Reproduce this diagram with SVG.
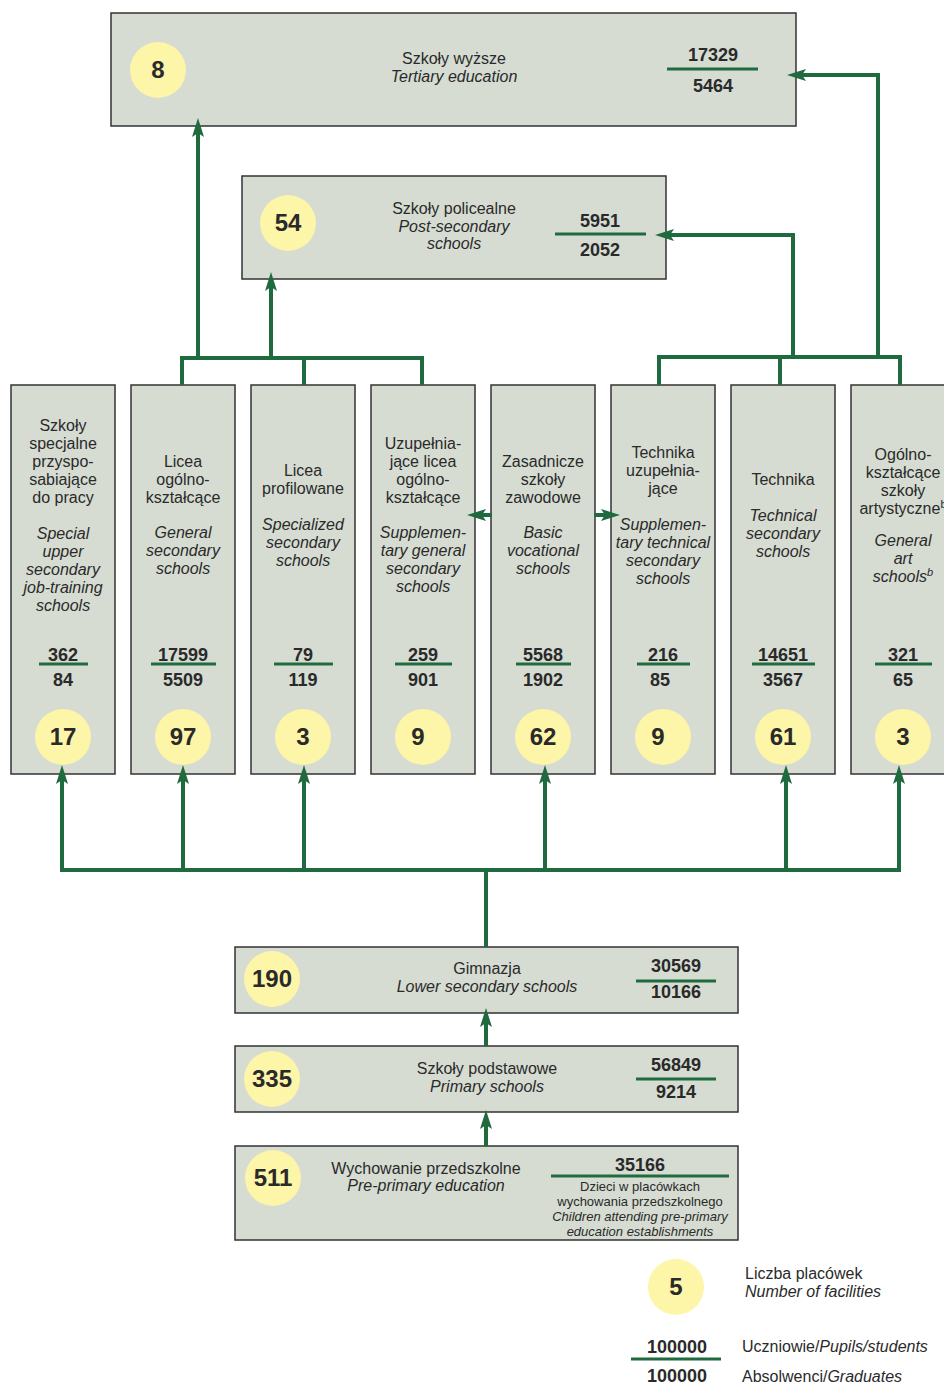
<svg xmlns="http://www.w3.org/2000/svg" width="944" height="1384" viewBox="0 0 944 1384">
<defs>
<style>
.box{fill:#d6dcd2;stroke:#333;stroke-width:1.5}
.dot{fill:#fdf5a8}
.t{font-family:"Liberation Sans",Arial,sans-serif;font-size:16px;fill:#2a2a2a;text-anchor:middle}
.i{font-style:italic}
.n{font-weight:bold;font-size:18px}
.c{font-weight:bold;font-size:24px}
.s{font-size:13px}
.l{text-anchor:start}
.rule{stroke:#1f6a3f;stroke-width:3}
.con{fill:none;stroke:#1f6a3f;stroke-width:4}
</style>
<marker id="ah" markerUnits="userSpaceOnUse" markerWidth="19" markerHeight="12" viewBox="0 0 19 12" refX="4" refY="6" orient="auto" overflow="visible">
<path d="M0,0 L19,6 L0,12 L4,6 Z" fill="#1f6a3f"/>
</marker>
</defs>
<rect width="944" height="1384" fill="#fff"/>

<g id="tertiary">
<rect class="box" x="111" y="13" width="685" height="113"/>
<circle class="dot" cx="158" cy="70" r="28"/>
<text class="t c" x="158" y="78">8</text>
<text class="t" x="454" y="64">Szkoły wyższe</text>
<text class="t i" x="454" y="82">Tertiary education</text>
<text class="t n" x="713" y="61">17329</text>
<line class="rule" x1="667" y1="69" x2="758" y2="69"/>
<text class="t n" x="713" y="92">5464</text>
</g>

<g id="postsecondary">
<rect class="box" x="242" y="176" width="424" height="103"/>
<circle class="dot" cx="288" cy="223" r="28"/>
<text class="t c" x="288" y="231">54</text>
<text class="t" x="454" y="214">Szkoły policealne</text>
<text class="t i" x="454" y="232">Post-secondary</text>
<text class="t i" x="454" y="249">schools</text>
<text class="t n" x="600" y="227">5951</text>
<line class="rule" x1="555" y1="234" x2="646" y2="234"/>
<text class="t n" x="600" y="256">2052</text>
</g>

<g id="col1">
<rect class="box" x="11" y="385" width="104" height="389"/>
<text class="t" x="63" y="431">Szkoły</text>
<text class="t" x="63" y="449">specjalne</text>
<text class="t" x="63" y="467">przyspo-</text>
<text class="t" x="63" y="485">sabiające</text>
<text class="t" x="63" y="503">do pracy</text>
<text class="t i" x="63" y="539">Special</text>
<text class="t i" x="63" y="557">upper</text>
<text class="t i" x="63" y="575">secondary</text>
<text class="t i" x="63" y="593">job-training</text>
<text class="t i" x="63" y="611">schools</text>
<text class="t n" x="63" y="661">362</text>
<line class="rule" x1="39" y1="664" x2="88" y2="664"/>
<text class="t n" x="63" y="686">84</text>
<circle class="dot" cx="63" cy="737" r="28"/>
<text class="t c" x="63" y="745">17</text>
</g>

<g id="col2">
<rect class="box" x="131" y="385" width="104" height="389"/>
<text class="t" x="183" y="467">Licea</text>
<text class="t" x="183" y="485">ogólno-</text>
<text class="t" x="183" y="503">kształcące</text>
<text class="t i" x="183" y="538">General</text>
<text class="t i" x="183" y="556">secondary</text>
<text class="t i" x="183" y="574">schools</text>
<text class="t n" x="183" y="661">17599</text>
<line class="rule" x1="151" y1="664" x2="216" y2="664"/>
<text class="t n" x="183" y="686">5509</text>
<circle class="dot" cx="183" cy="737" r="28"/>
<text class="t c" x="183" y="745">97</text>
</g>

<g id="col3">
<rect class="box" x="251" y="385" width="104" height="389"/>
<text class="t" x="303" y="476">Licea</text>
<text class="t" x="303" y="494">profilowane</text>
<text class="t i" x="303" y="530">Specialized</text>
<text class="t i" x="303" y="548">secondary</text>
<text class="t i" x="303" y="566">schools</text>
<text class="t n" x="303" y="661">79</text>
<line class="rule" x1="274" y1="664" x2="333" y2="664"/>
<text class="t n" x="303" y="686">119</text>
<circle class="dot" cx="303" cy="737" r="28"/>
<text class="t c" x="303" y="745">3</text>
</g>

<g id="col4">
<rect class="box" x="371" y="385" width="104" height="389"/>
<text class="t" x="423" y="449">Uzupełnia-</text>
<text class="t" x="423" y="467">jące licea</text>
<text class="t" x="423" y="485">ogólno-</text>
<text class="t" x="423" y="503">kształcące</text>
<text class="t i" x="423" y="538">Supplemen-</text>
<text class="t i" x="423" y="556">tary general</text>
<text class="t i" x="423" y="574">secondary</text>
<text class="t i" x="423" y="592">schools</text>
<text class="t n" x="423" y="661">259</text>
<line class="rule" x1="395" y1="664" x2="452" y2="664"/>
<text class="t n" x="423" y="686">901</text>
<circle class="dot" cx="423" cy="737" r="28"/>
<text class="t c" x="418" y="745">9</text>
</g>

<g id="col5">
<rect class="box" x="491" y="385" width="104" height="389"/>
<text class="t" x="543" y="467">Zasadnicze</text>
<text class="t" x="543" y="485">szkoły</text>
<text class="t" x="543" y="503">zawodowe</text>
<text class="t i" x="543" y="538">Basic</text>
<text class="t i" x="543" y="556">vocational</text>
<text class="t i" x="543" y="574">schools</text>
<text class="t n" x="543" y="661">5568</text>
<line class="rule" x1="516" y1="664" x2="571" y2="664"/>
<text class="t n" x="543" y="686">1902</text>
<circle class="dot" cx="543" cy="737" r="28"/>
<text class="t c" x="543" y="745">62</text>
</g>

<g id="col6">
<rect class="box" x="611" y="385" width="104" height="389"/>
<text class="t" x="663" y="458">Technika</text>
<text class="t" x="663" y="476">uzupełnia-</text>
<text class="t" x="663" y="494">jące</text>
<text class="t i" x="663" y="530">Supplemen-</text>
<text class="t i" x="663" y="548">tary technical</text>
<text class="t i" x="663" y="566">secondary</text>
<text class="t i" x="663" y="584">schools</text>
<text class="t n" x="663" y="661">216</text>
<line class="rule" x1="637" y1="664" x2="690" y2="664"/>
<text class="t n" x="660" y="686">85</text>
<circle class="dot" cx="663" cy="737" r="28"/>
<text class="t c" x="658" y="745">9</text>
</g>

<g id="col7">
<rect class="box" x="731" y="385" width="104" height="389"/>
<text class="t" x="783" y="485">Technika</text>
<text class="t i" x="783" y="521">Technical</text>
<text class="t i" x="783" y="539">secondary</text>
<text class="t i" x="783" y="557">schools</text>
<text class="t n" x="783" y="661">14651</text>
<line class="rule" x1="752" y1="664" x2="815" y2="664"/>
<text class="t n" x="783" y="686">3567</text>
<circle class="dot" cx="783" cy="737" r="28"/>
<text class="t c" x="783" y="745">61</text>
</g>

<g id="col8">
<rect class="box" x="851" y="385" width="104" height="389"/>
<text class="t" x="903" y="460">Ogólno-</text>
<text class="t" x="903" y="478">kształcące</text>
<text class="t" x="903" y="496">szkoły</text>
<text class="t" x="903" y="514">artystyczne<tspan font-size="11" dy="-6">b</tspan></text>
<text class="t i" x="903" y="546">General</text>
<text class="t i" x="903" y="564">art</text>
<text class="t i" x="903" y="582">schools<tspan font-size="11" dy="-6">b</tspan></text>
<text class="t n" x="903" y="661">321</text>
<line class="rule" x1="875" y1="664" x2="932" y2="664"/>
<text class="t n" x="903" y="686">65</text>
<circle class="dot" cx="903" cy="737" r="28"/>
<text class="t c" x="903" y="745">3</text>
</g>

<g id="lowersecondary">
<rect class="box" x="235" y="947" width="503" height="66"/>
<circle class="dot" cx="272" cy="979" r="28"/>
<text class="t c" x="272" y="987">190</text>
<text class="t" x="487" y="974">Gimnazja</text>
<text class="t i" x="487" y="992">Lower secondary schools</text>
<text class="t n" x="676" y="972">30569</text>
<line class="rule" x1="636" y1="981" x2="716" y2="981"/>
<text class="t n" x="676" y="998">10166</text>
</g>

<g id="primary">
<rect class="box" x="235" y="1046" width="503" height="66"/>
<circle class="dot" cx="272" cy="1079" r="28"/>
<text class="t c" x="272" y="1087">335</text>
<text class="t" x="487" y="1074">Szkoły podstawowe</text>
<text class="t i" x="487" y="1092">Primary schools</text>
<text class="t n" x="676" y="1071">56849</text>
<line class="rule" x1="636" y1="1079" x2="716" y2="1079"/>
<text class="t n" x="676" y="1098">9214</text>
</g>

<g id="preprimary">
<rect class="box" x="235" y="1146" width="503" height="94"/>
<circle class="dot" cx="273" cy="1178" r="28"/>
<text class="t c" x="273" y="1186">511</text>
<text class="t" x="426" y="1174">Wychowanie przedszkolne</text>
<text class="t i" x="426" y="1191">Pre-primary education</text>
<text class="t n" x="640" y="1171">35166</text>
<line class="rule" x1="551" y1="1176" x2="729" y2="1176"/>
<text class="t s" x="640" y="1191">Dzieci w placówkach</text>
<text class="t s" x="640" y="1206">wychowania przedszkolnego</text>
<text class="t s i" x="640" y="1221">Children attending pre-primary</text>
<text class="t s i" x="640" y="1236">education establishments</text>
</g>

<g id="legend">
<circle class="dot" cx="676" cy="1287" r="28"/>
<text class="t c" x="676" y="1295">5</text>
<text class="t l" x="745" y="1279">Liczba placówek</text>
<text class="t l i" x="745" y="1297">Number of facilities</text>
<text class="t n" x="677" y="1353">100000</text>
<line class="rule" x1="631" y1="1359" x2="721" y2="1359"/>
<text class="t n" x="677" y="1382">100000</text>
<text class="t l" x="742" y="1352">Uczniowie/<tspan font-style="italic">Pupils/students</tspan></text>
<text class="t l" x="742" y="1382">Absolwenci/<tspan font-style="italic">Graduates</tspan></text>
</g>

<g id="connectors">
<path class="con" d="M182,385 V358 H422 V385 M304,358 V385"/>
<path class="con" d="M198,358 V133" marker-end="url(#ah)"/>
<path class="con" d="M271,358 V287" marker-end="url(#ah)"/>
<path class="con" d="M659,385 V357 H900 V385 M780,357 V385"/>
<path class="con" d="M878,357 V75 H802" marker-end="url(#ah)"/>
<path class="con" d="M793,357 V235 H670" marker-end="url(#ah)"/>
<path class="con" d="M492,515 H482" marker-end="url(#ah)"/>
<path class="con" d="M594,515 H605" marker-end="url(#ah)"/>
<path class="con" d="M62,870 H899 M486,870 V947"/>
<path class="con" d="M62,872 V780" marker-end="url(#ah)"/>
<path class="con" d="M183,870 V780" marker-end="url(#ah)"/>
<path class="con" d="M304,870 V780" marker-end="url(#ah)"/>
<path class="con" d="M545,870 V780" marker-end="url(#ah)"/>
<path class="con" d="M786,870 V780" marker-end="url(#ah)"/>
<path class="con" d="M899,872 V780" marker-end="url(#ah)"/>
<path class="con" d="M486,1046 V1023" marker-end="url(#ah)"/>
<path class="con" d="M486,1146 V1125" marker-end="url(#ah)"/>
</g>
</svg>
